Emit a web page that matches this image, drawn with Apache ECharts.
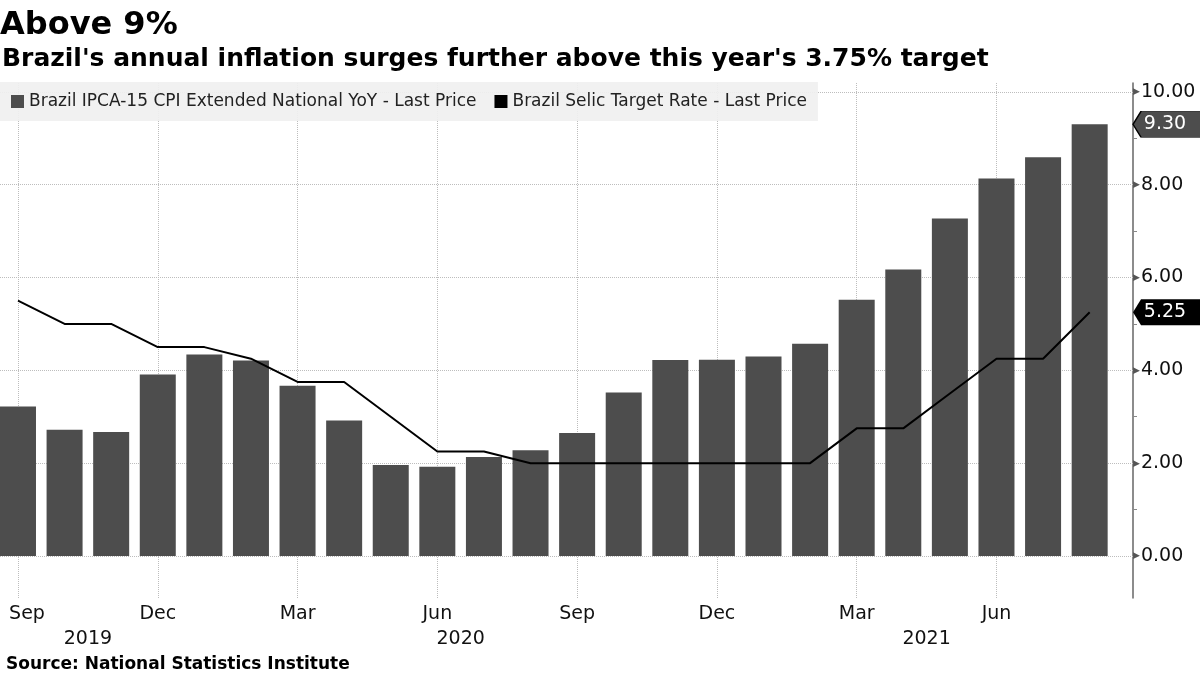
<!DOCTYPE html>
<html>
<head>
<meta charset="utf-8">
<script src="https://cdn.jsdelivr.net/npm/echarts@6/dist/echarts.min.js"></script>
<style>
html,body{margin:0;padding:0;background:#fff;}
#chart{width:1200px;height:675px;}
</style>
</head>
<body>
<div id="chart"></div>
<script>
// ---- data ----
const categories = ['Sep 2019','Oct 2019','Nov 2019','Dec 2019',
  'Jan 2020','Feb 2020','Mar 2020','Apr 2020','May 2020','Jun 2020','Jul 2020','Aug 2020','Sep 2020','Oct 2020','Nov 2020','Dec 2020',
  'Jan 2021','Feb 2021','Mar 2021','Apr 2021','May 2021','Jun 2021','Jul 2021','Aug 2021'];
const ipca15 = [3.22,2.72,2.67,3.91,4.34,4.21,3.67,2.92,1.96,1.92,2.13,2.28,2.65,3.52,4.22,4.23,4.30,4.57,5.52,6.17,7.27,8.13,8.59,9.30];
const selic  = [5.50,5.00,5.00,4.50,4.50,4.25,3.75,3.75,3.00,2.25,2.25,2.00,2.00,2.00,2.00,2.00,2.00,2.00,2.75,2.75,3.50,4.25,4.25,5.25];
const xTickLabels = ['Sep','Dec','Mar','Jun','Sep','Dec','Mar','Jun'];
const yTickValues = [0,2,4,6,8,10];
const yMinorTicks = [1,3,5,7,9];
const seriesNames = ['Brazil IPCA-15 CPI Extended National YoY - Last Price','Brazil Selic Target Rate - Last Price'];

// ---- derived ----
const X_MIN = -0.386, X_MAX = 23.93, Y_MIN = -0.905, Y_MAX = 10.19;
const xTickIdx = xTickLabels.map((l,k)=>k*3);
const yearIdx = {};
categories.forEach((c,i)=>{const y=c.split(' ')[1]; (yearIdx[y]=yearIdx[y]||[]).push(i);});
const yearMids = Object.keys(yearIdx).map(y=>{const a=yearIdx[y];return (a[0]+a[a.length-1])/2;});
const yearNames = Object.keys(yearIdx);
const barData = ipca15.map((v,i)=>[i,v]);
const lineData = selic.map((v,i)=>[i,v]);
const FONT = 'DejaVu Sans';
const tagPath = 'path://M0,13 L8,0 L70,0 L70,26 L8,26 Z';

const chart = echarts.init(document.getElementById('chart'), null, {renderer:'canvas'});
chart.setOption({
  animation:false,
  backgroundColor:'#fff',
  textStyle:{fontFamily:FONT},
  title:[
    {text:'Above 9%', left:0, top:10, padding:0, textStyle:{fontFamily:FONT,fontWeight:'bold',fontSize:32,color:'#000'}},
    {text:"Brazil's annual inflation surges further above this year's 3.75% target", left:2, top:47, padding:0, textStyle:{fontFamily:FONT,fontWeight:'bold',fontSize:25,color:'#000'}},
    {text:'Source: National Statistics Institute', left:6, top:656, padding:0, textStyle:{fontFamily:FONT,fontWeight:'bold',fontSize:17,color:'#000'}}
  ],
  legend:{
    left:0, top:82, itemGap:18, itemWidth:13, itemHeight:13,
    padding:[11,11,11,11],
    backgroundColor:'rgba(240,240,240,0.92)',
    textStyle:{fontFamily:FONT,fontSize:17,color:'#222'},
    data:[{name:seriesNames[0],icon:'rect'},{name:seriesNames[1],icon:'rect'}]
  },
  grid:{left:0, right:67, top:83, bottom:77, containLabel:false},
  xAxis:[
    {type:'value', min:X_MIN, max:X_MAX, axisLine:{show:false, onZero:false}, axisTick:{show:false}, splitLine:{show:false},
     axisLabel:{customValues:xTickIdx, margin:7, fontFamily:FONT, fontSize:19, color:'#111',
       formatter:v=>{const l=xTickLabels[Math.round(v)/3]||''; return v===0?'{a|'+l+'}':l;},
       rich:{a:{fontFamily:FONT,fontSize:19,color:'#111',padding:[0,0,0,18]}}}},
    {type:'value', min:X_MIN, max:X_MAX, position:'bottom', axisLine:{show:false, onZero:false}, axisTick:{show:false}, splitLine:{show:false},
     axisLabel:{customValues:yearMids, margin:32, fontFamily:FONT, fontSize:19, color:'#111',
       formatter:v=>{const k=yearMids.indexOf(v);return k>=0?yearNames[k]:'';}}}
  ],
  yAxis:{
    type:'value', position:'right', min:Y_MIN, max:Y_MAX,
    axisLine:{show:true, onZero:false, lineStyle:{color:'#666', width:1.5}},
    axisTick:{show:true, customValues:yMinorTicks, length:4, lineStyle:{color:'#888'}},
    splitLine:{show:false},
    axisLabel:{customValues:yTickValues, margin:0, color:'#111',
      formatter:v=>'{t|▶}{v|'+v.toFixed(2)+'}',
      rich:{t:{fontSize:9,color:'#555',fontFamily:FONT,padding:[0,1,0,0]},v:{fontSize:19,color:'#111',fontFamily:FONT}}}
  },
  series:[
    {name:seriesNames[0], type:'bar', xAxisIndex:0, data:barData, barWidth:36, z:2,
     itemStyle:{color:'#4d4d4d'},
     markLine:{silent:true, z:1, symbol:'none', label:{show:false},
       lineStyle:{type:'dotted', color:'#bdbdbd', width:1},
       data:[...xTickIdx.map(i=>({xAxis:i})), ...yTickValues.map(v=>({yAxis:v}))]},
     markPoint:{silent:true, z:6, data:[{coord:[X_MAX, ipca15[ipca15.length-1]], value:ipca15[ipca15.length-1]}],
       symbol:tagPath, symbolSize:[70,26], symbolKeepAspect:false, symbolOffset:[35,0],
       itemStyle:{color:'#4d4d4d', borderColor:'#000', borderWidth:1},
       label:{show:true, position:'inside', offset:[-3,0], color:'#fff', fontSize:19, fontFamily:FONT, formatter:p=>p.value.toFixed(2)}}
    },
    {name:seriesNames[1], type:'line', xAxisIndex:0, data:lineData, z:3, showSymbol:false, symbol:'none',
     itemStyle:{color:'#000'}, lineStyle:{color:'#000', width:2},
     markPoint:{silent:true, z:6, data:[{coord:[X_MAX, selic[selic.length-1]], value:selic[selic.length-1]}],
       symbol:tagPath, symbolSize:[70,26], symbolKeepAspect:false, symbolOffset:[35,0],
       itemStyle:{color:'#000'},
       label:{show:true, position:'inside', offset:[-3,0], color:'#fff', fontSize:19, fontFamily:FONT, formatter:p=>p.value.toFixed(2)}}
    }
  ]
});
</script>
</body>
</html>
